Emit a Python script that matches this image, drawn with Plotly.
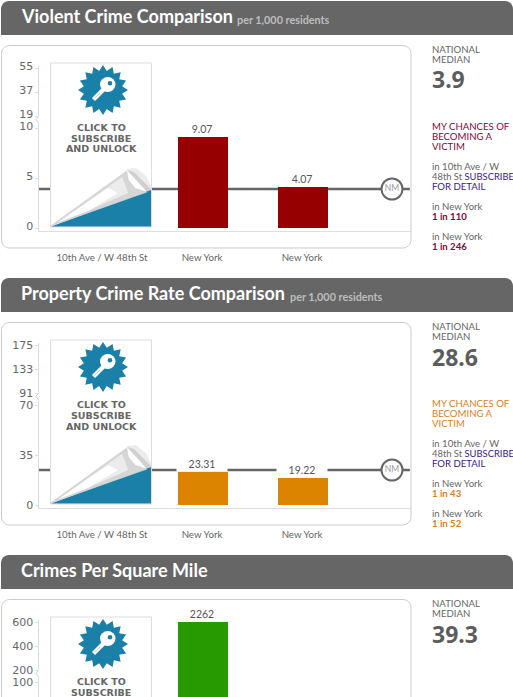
import math
import plotly.graph_objects as go

W, H = 513, 697
OFFSET = 277
FONT = "Lato, Noto Sans, sans-serif"
TICKFONT = "DejaVu Sans, sans-serif"

categories = ["10th Ave / W 48th St", "New York", "New York"]

violent_values = [None, 9.07, 4.07]
violent_ticks = [0, 5, 10, 19, 37, 55]
violent_median = 3.9
violent_line_level = 3.9
violent_odds = ["1 in 110", "1 in 246"]

property_values = [None, 23.31, 19.22]
property_ticks = [0, 35, 70, 91, 133, 175]
property_median = 28.6
property_line_level = 24.5
property_odds = ["1 in 43", "1 in 52"]

density_values = [None, 2262, None]
density_ticks = [0, 50, 100, 200, 400, 600]
density_median = 39.3


def px(x):
    return x / W


def py(y):
    return 1 - y / H


def scale(v, ticks):
    """Broken axis: lower part linear, upper part compressed."""
    low, up, top = ticks[2], ticks[3], ticks[5]
    if v <= low:
        return v / low * 100
    if v >= top:
        return 160
    return 112 + (max(v, up) - up) / (top - up) * 48


shapes, annotations = [], []


def rect(x0, y0, x1, y1, fill, line=None, layer="below", width=1):
    shapes.append(dict(type="rect", xref="paper", yref="paper", x0=px(x0), x1=px(x1), y0=py(y1), y1=py(y0),
                       fillcolor=fill, line=dict(color=line or fill, width=width if line else 0), layer=layer))


def path(points, fill, line=None, width=1, layer="above", close=True):
    d = "M " + " L ".join(f"{px(x):.5f} {py(y):.5f}" for x, y in points) + (" Z" if close else "")
    shapes.append(dict(type="path", xref="paper", yref="paper", path=d, fillcolor=fill,
                       line=dict(color=line or fill, width=width if line else 0), layer=layer))


def rounded(x0, y0, x1, y1, r, fill, line=None, bottom=True):
    pts = []
    corners = [(x1 - r, y0 + r, -90), (x1 - r, y1 - r, 0), (x0 + r, y1 - r, 90), (x0 + r, y0 + r, 180)]
    for i, (cx, cy, a0) in enumerate(corners):
        if not bottom and i in (1, 2):
            pts.append((x1 if i == 1 else x0, y1))
            continue
        for k in range(7):
            a = math.radians(a0 + 15 * k)
            pts.append((cx + r * math.cos(a), cy + r * math.sin(a)))
    path(pts, fill, line, 1, "below")


def text(x, y, s, size=10, color="#666666", xanchor="left", family=FONT):
    if y > H - 3:
        return
    annotations.append(dict(xref="paper", yref="paper", x=px(x), y=py(y), text=s, showarrow=False,
                            xanchor=xanchor, yanchor="middle", align=xanchor, borderpad=0, xshift=0,
                            font=dict(size=size, color=color, family=family)))


def locked_panel(dy):
    rect(50.5, 63 + dy, 151.5, 227 + dy, "#ffffff", "#dddddd", "above", 1)
    # badge
    cx, cy = 103, 90 + dy
    pts = []
    for i in range(32):
        r = 25 if i % 2 == 0 else 19.5
        a = math.radians(i * 360 / 32 - 90)
        pts.append((cx + r * math.cos(a), cy + r * math.sin(a)))
    path(pts, "#1a80a8")
    shapes.append(dict(type="line", xref="paper", yref="paper", x0=px(93.5), y0=py(99.5 + dy), x1=px(104), y1=py(89 + dy),
                       line=dict(color="#ffffff", width=4.5), layer="above"))
    shapes.append(dict(type="circle", xref="paper", yref="paper", x0=px(100), x1=px(115.5), y0=py(92 + dy), y1=py(77 + dy),
                       fillcolor="#ffffff", line=dict(width=0), layer="above"))
    shapes.append(dict(type="circle", xref="paper", yref="paper", x0=px(107.7), x1=px(112.3), y0=py(85.6 + dy), y1=py(81 + dy),
                       fillcolor="#1a80a8", line=dict(width=0), layer="above"))
    shapes.append(dict(type="line", xref="paper", yref="paper", x0=px(94.5), y0=py(98.5 + dy), x1=px(100), y1=py(93 + dy),
                       line=dict(color="#a9d3e3", width=1), layer="above"))
    for i, s in enumerate(["CLICK TO", "SUBSCRIBE", "AND UNLOCK"]):
        text(101, 127 + 11 * i + dy, f"<b>{s}</b>", 9.5, "#666666", "center", "DejaVu Sans, sans-serif")
    # page curl
    path([(51, 226.5 + dy), (151, 190 + dy), (151, 226.5 + dy)], "#1a80a8")
    path([(126, 169 + dy), (136, 168 + dy), (146, 176 + dy), (151, 186 + dy), (151, 190 + dy), (147, 192 + dy)], "rgba(120,120,120,0.14)")
    path([(127, 170 + dy), (134, 172 + dy), (142, 180 + dy), (151, 189 + dy), (147, 192 + dy)], "rgba(110,110,110,0.22)")
    curl = [(51, 225.8 + dy), (126.7, 171 + dy), (128.3, 180 + dy), (135, 188.3 + dy), (146.7, 192.2 + dy)]
    path(curl, "#d6d6d6", "#c9c9c9", 0.6)
    path([(60, 221 + dy), (122, 177 + dy), (125, 184 + dy), (128, 193 + dy), (92, 209 + dy)], "#ececec")
    path([(58, 222.5 + dy), (108, 188 + dy), (118, 193 + dy), (88, 211 + dy)], "#ffffff")


def sidebar(dy, median, accent, odds):
    s = 9.6
    x = 430.5
    text(x, 49.3 + dy, "NATIONAL", s)
    text(x, 59.3 + dy, "MEDIAN", s)
    text(x, 79.5 + dy, f"<b>{median}</b>", 23, "#5c5c5c", family="Noto Sans, sans-serif")
    if not odds:
        return
    for i, t in enumerate(["MY CHANCES OF", "BECOMING A", "VICTIM"]):
        text(x, 126.7 + 10 * i + dy, t, s, accent)
    text(x, 166.7 + dy, "in 10th Ave / W", s)
    text(x, 176.7 + dy, '48th St <span style="color:#3a1a8a">SUBSCRIBE</span>', 9.4)
    text(x, 186.7 + dy, "FOR DETAIL", s, "#3a1a8a")
    text(x, 206.7 + dy, "in New York", s)
    text(x, 216.7 + dy, f"<b>{odds[0]}</b>", s, accent)
    text(x, 236.7 + dy, "in New York", s)
    text(x, 246.7 + dy, f"<b>{odds[1]}</b>", s, accent)


fig = go.Figure()

charts = [
    dict(title="Violent Crime Comparison", sub="per 1,000 residents", sub_x=235.5, values=violent_values,
         ticks=violent_ticks, line=violent_line_level, median=violent_median, color="#960000",
         accent="#85063a", odds=violent_odds, dy=0, labelshift=-2),
    dict(title="Property Crime Rate Comparison", sub="per 1,000 residents", sub_x=288.5, values=property_values,
         ticks=property_ticks, line=property_line_level, median=property_median, color="#dc8400",
         accent="#dc7f1a", odds=property_odds, dy=OFFSET, labelshift=0),
    dict(title="Crimes Per Square Mile", sub="", sub_x=0, values=density_values,
         ticks=density_ticks, line=None, median=density_median, color="#269a00",
         accent="#269a00", odds=None, dy=2 * OFFSET, labelshift=0),
]

layout = {}
for i, c in enumerate(charts):
    dy = c["dy"]
    n = "" if i == 0 else str(i + 1)
    # header and card
    rounded(1, 1 + dy, 513, 35 + dy, 8, "#666666", None, bottom=False)
    text(19.5, 16 + dy, f"<b>{c['title']}</b>", 18, "#ffffff", family="Lato, sans-serif")
    if c["sub"]:
        text(c["sub_x"], 19.5 + dy, f"<b>{c['sub']}</b>", 10.8, "#bdbdbd")
    rounded(1.5, 45.5 + dy, 411, 248 + dy, 8, "#ffffff", "#cccccc")

    # axis geometry
    y_bottom_px = min(231 + dy, H)
    y_top_px = 66 + dy
    t_bottom = 228 + dy - y_bottom_px
    xr = [(38.5 - 102) / 100, (411 - 102) / 100]
    layout[f"xaxis{n}"] = dict(domain=[px(38.5), px(411)], range=xr, anchor=f"y{n}", tickvals=[0, 1, 2],
                               ticktext=categories if i < 2 else ["", "", ""], ticks="", showgrid=False, zeroline=False,
                               showline=True, linecolor="#dddddd", linewidth=1, ticklabelstandoff=17,
                               tickfont=dict(size=9.7, color="#666666", family=FONT), fixedrange=True)
    layout[f"yaxis{n}"] = dict(domain=[py(y_bottom_px), py(y_top_px)], range=[t_bottom, 162], anchor=f"x{n}",
                               tickvals=[scale(v, c["ticks"]) for v in c["ticks"]], ticktext=[str(v) for v in c["ticks"]],
                               ticks="outside", ticklen=3, tickcolor="#dddddd", showgrid=False, zeroline=False,
                               showline=True, linecolor="#dddddd", linewidth=1, ticklabelstandoff=-1,
                               ticklabelshift=c["labelshift"],
                               tickfont=dict(size=11, color="#666666", family=TICKFONT), fixedrange=True)
    # median line goes behind the bars
    if c["line"] is not None:
        level = scale(c["line"], c["ticks"])
        shapes.append(dict(type="line", xref=f"x{n} domain", yref=f"y{n}", x0=0, x1=0.997, y0=level, y1=level,
                           line=dict(color="#666666", width=2.4), layer="below"))
        fig.add_trace(go.Scatter(x=[2.9], y=[level], xaxis=f"x{n}", yaxis=f"y{n}", mode="markers+text", text=["NM"],
                                 textposition="middle center", textfont=dict(size=8.5, color="#9a9a9a", family=FONT),
                                 marker=dict(size=21, color="#ffffff", line=dict(color="#666666", width=2)),
                                 hoverinfo="skip", showlegend=False))
    xs = [k for k, v in enumerate(c["values"]) if v is not None]
    vals = [c["values"][k] for k in xs]
    ts = [scale(v, c["ticks"]) for v in vals]
    fig.add_trace(go.Bar(x=xs, y=ts, width=0.5, marker=dict(color=c["color"], line=dict(width=0)),
                         xaxis=f"x{n}", yaxis=f"y{n}", hoverinfo="skip", showlegend=False))
    for k, v, t in zip(xs, vals, ts):
        annotations.append(dict(xref=f"x{n}", yref=f"y{n}", x=k, y=t, text=str(v), showarrow=False, xanchor="center",
                                yanchor="bottom", width=50, height=14, bgcolor="#ffffff", borderpad=0,
                                font=dict(size=10.5, color="#555555", family=FONT)))
    # axis break mark
    path([(37.5, 115 + dy), (39.5, 115 + dy), (39.5, 124 + dy), (37.5, 124 + dy)], "#ffffff")
    path([(39, 115.5 + dy), (36, 119.5 + dy), (39, 123.5 + dy)], "rgba(0,0,0,0)", "#cccccc", 1, close=False)
    locked_panel(dy)
    sidebar(dy, c["median"], c["accent"], c["odds"])

fig.update_layout(width=W, height=H, margin=dict(l=0, r=0, t=0, b=0, autoexpand=False), paper_bgcolor="#ffffff",
                  plot_bgcolor="rgba(0,0,0,0)", shapes=shapes, annotations=annotations, showlegend=False, bargap=0, **layout)
fig.write_html("out.html", config=dict(displayModeBar=False),
               post_script="document.body.style.margin='0';document.documentElement.style.overflow='hidden';")
